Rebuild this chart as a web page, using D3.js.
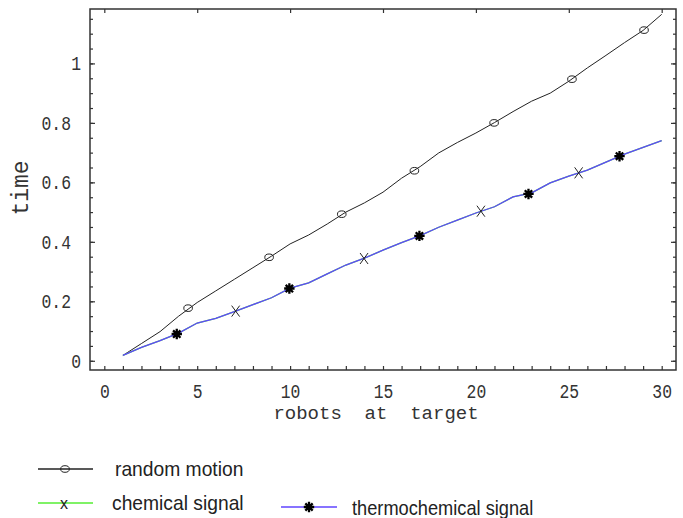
<!DOCTYPE html>
<html><head><meta charset="utf-8">
<script src="https://cdn.jsdelivr.net/npm/d3@7"></script>
<style>
html,body{margin:0;padding:0;background:#fff;}
svg{display:block;}
text{white-space:pre;}
</style></head>
<body>
<svg id="chart" width="683" height="518"></svg>
<script>
// ---- data ----
const robots = d3.range(1, 31);
const randomTime = [0.018,0.058,0.098,0.150,0.196,0.235,0.274,0.313,0.352,0.393,
  0.423,0.460,0.500,0.531,0.567,0.614,0.653,0.699,0.734,0.766,
  0.801,0.838,0.873,0.900,0.940,0.985,1.027,1.070,1.111,1.165];
const chemicalTime = [0.018,0.045,0.068,0.093,0.127,0.143,0.165,0.189,0.212,0.244,
  0.262,0.292,0.322,0.345,0.372,0.397,0.421,0.449,0.473,0.497,
  0.518,0.551,0.565,0.598,0.621,0.641,0.668,0.695,0.718,0.740];
const thermoTime = chemicalTime.slice();
const randomMarkX = [4.51,8.87,12.78,16.69,20.98,25.17,29.05];
const randomMarkY = [0.177,0.348,0.493,0.639,0.800,0.947,1.112];
const chemMarkX = [7.07,13.98,20.27,25.53];
const chemMarkY = [0.167,0.344,0.503,0.632];
const thermoMarkX = [3.90,9.96,16.96,22.83,27.73];
const thermoMarkY = [0.090,0.243,0.420,0.561,0.688];
const xMajor = [0,5,10,15,20,25,30];
const yMajor = [0,0.2,0.4,0.6,0.8,1];
const xMinor = d3.range(0,31);
const yMinor = d3.range(0,1.17,0.05).map(v=>+v.toFixed(2));
const legendLabels = ["random motion","chemical signal","thermochemical signal"];
const xTitle = "robots  at  target";
const yTitle = "time";

// ---- layout ----
const L=90, R=676, T=9, B=370;
const svg = d3.select("#chart");
const x = d3.scaleLinear().domain([-0.77,30.77]).range([L,R]);
const y = d3.scaleLinear().domain([-0.031,1.183]).range([B,T]);
const axisColor = "#333";
const mono = "'Liberation Mono','Courier New',monospace";

function styleAxis(g){
  g.select(".domain").remove();
  g.selectAll(".tick line").attr("stroke",axisColor).attr("stroke-width",1.2);
}
// bottom minor ticks
svg.append("g").attr("transform",`translate(0,${B})`)
  .call(d3.axisBottom(x).tickValues(xMinor).tickSize(-4).tickFormat(""))
  .call(styleAxis);
// bottom labels
const gb = svg.append("g").attr("transform",`translate(0,${B})`)
  .call(d3.axisBottom(x).tickValues(xMajor).tickSize(0).tickPadding(0).tickFormat(d3.format("d")))
  .call(styleAxis);
gb.selectAll("text").attr("y",null).attr("dy",null)
  .attr("transform","translate(0,28) scale(0.82,1.05)")
  .attr("font-family",mono).attr("font-size",20).attr("fill",axisColor);
// top ticks
svg.append("g").attr("transform",`translate(0,${T})`)
  .call(d3.axisTop(x).tickValues(xMajor).tickSize(-4).tickFormat(""))
  .call(styleAxis);
// left minor ticks
svg.append("g").attr("transform",`translate(${L},0)`)
  .call(d3.axisLeft(y).tickValues(yMinor).tickSize(-3).tickFormat(""))
  .call(styleAxis);
// left major + labels
const gl = svg.append("g").attr("transform",`translate(${L},0)`)
  .call(d3.axisLeft(y).tickValues(yMajor).tickSize(-5).tickFormat(d=>d===0||d===1?String(d):d3.format(".1f")(d)))
  .call(styleAxis);
gl.selectAll("text").attr("x",null).attr("dy",null)
  .attr("text-anchor","end")
  .attr("transform",d=>`translate(${(d===0||d===1)?-9:-19},6.5) scale(0.82,1.05)`)
  .attr("font-family",mono).attr("font-size",20).attr("fill",axisColor);
// right ticks
svg.append("g").attr("transform",`translate(${R},0)`)
  .call(d3.axisRight(y).tickValues(yMinor).tickSize(-3).tickFormat(""))
  .call(styleAxis);
svg.append("g").attr("transform",`translate(${R},0)`)
  .call(d3.axisRight(y).tickValues(yMajor).tickSize(-5).tickFormat(""))
  .call(styleAxis);
// frame
svg.append("rect").attr("x",L).attr("y",T).attr("width",R-L).attr("height",B-T)
  .attr("fill","none").attr("stroke",axisColor).attr("stroke-width",1.5);

// axis titles
svg.append("text").attr("x",376).attr("y",419).attr("text-anchor","middle")
  .attr("font-family",mono).attr("font-size",19).attr("fill",axisColor).text(xTitle);
svg.append("text").attr("transform","translate(28,188) rotate(-90)").attr("text-anchor","middle")
  .attr("font-family",mono).attr("font-size",23).attr("fill",axisColor).text(yTitle);

// ---- series ----
const line = d3.line().x((d,i)=>x(robots[i])).y(d=>y(d));
const green = "#55ee33", blue = "#5f45ff";
svg.append("path").datum(randomTime).attr("d",line).attr("fill","none").attr("stroke","#222").attr("stroke-width",1);
svg.append("path").datum(chemicalTime).attr("d",line).attr("fill","none").attr("stroke",green).attr("stroke-width",1.3);
svg.append("path").datum(thermoTime).attr("d",line).attr("fill","none").attr("stroke",blue).attr("stroke-width",1.3);

function circleMark(g,cx,cy){
  g.append("ellipse").attr("cx",cx).attr("cy",cy).attr("rx",4.3).attr("ry",3.3)
   .attr("fill","none").attr("stroke","#222").attr("stroke-width",1);
}
function xMark(g,cx,cy){
  g.append("path").attr("d",`M${cx-4},${cy-5.5}L${cx+4},${cy+5.5}M${cx+4},${cy-5.5}L${cx-4},${cy+5.5}`)
   .attr("stroke","#222").attr("stroke-width",1).attr("fill","none");
}
function starMark(g,cx,cy){
  const r=5.2;
  let d="";
  for(let k=0;k<4;k++){const a=k*Math.PI/4;d+=`M${cx-r*Math.cos(a)},${cy-r*Math.sin(a)}L${cx+r*Math.cos(a)},${cy+r*Math.sin(a)}`;}
  g.append("path").attr("d",d).attr("stroke","#000").attr("stroke-width",2.3).attr("fill","none");
  g.append("circle").attr("cx",cx).attr("cy",cy).attr("r",2.8).attr("fill","#000");
}
const gm = svg.append("g");
randomMarkX.forEach((v,i)=>circleMark(gm,x(v),y(randomMarkY[i])));
chemMarkX.forEach((v,i)=>xMark(gm,x(v),y(chemMarkY[i])));
thermoMarkX.forEach((v,i)=>starMark(gm,x(v),y(thermoMarkY[i])));

// ---- legend ----
const sans = "'Liberation Sans',Arial,sans-serif";
const lg = svg.append("g");
lg.append("line").attr("x1",38).attr("x2",93).attr("y1",469).attr("y2",469).attr("stroke","#222").attr("stroke-width",1.3);
circleMark(lg,65,469);
lg.append("text").attr("transform","translate(115,476) scale(0.94,1)").attr("font-family",sans).attr("font-size",20.5).attr("fill","#222").text(legendLabels[0]);
lg.append("line").attr("x1",38).attr("x2",93).attr("y1",503).attr("y2",503).attr("stroke",green).attr("stroke-width",1.5);
lg.append("text").attr("x",64).attr("y",509).attr("text-anchor","middle").attr("font-family",sans).attr("font-size",16).attr("fill","#222").text("x");
lg.append("text").attr("transform","translate(112,510) scale(0.94,1)").attr("font-family",sans).attr("font-size",20.5).attr("fill","#222").text(legendLabels[1]);
lg.append("line").attr("x1",281).attr("x2",337).attr("y1",507).attr("y2",507).attr("stroke",blue).attr("stroke-width",1.5);
starMark(lg,309,507);
lg.append("text").attr("transform","translate(352,515) scale(0.94,1)").attr("font-family",sans).attr("font-size",19.4).attr("fill","#222").text(legendLabels[2]);
</script>
</body></html>
